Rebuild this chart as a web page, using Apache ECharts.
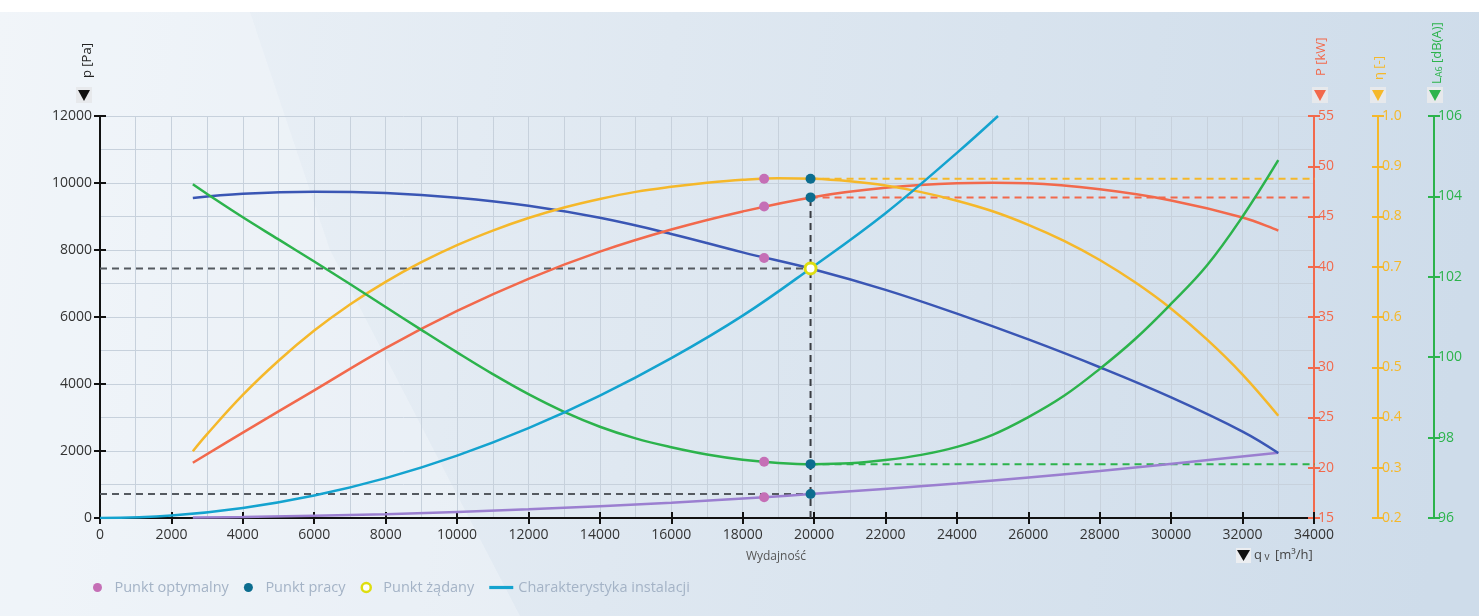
<!DOCTYPE html>
<html>
<head>
<meta charset="utf-8">
<script src="https://cdn.jsdelivr.net/npm/echarts@6/dist/echarts.min.js"></script>
<style>
  html, body { margin: 0; padding: 0; background: #ffffff; }
  #chart { width: 1479px; height: 616px; }
</style>
</head>
<body>
<div id="chart"></div>
<script>
// Fan curves: [flow q (m³/h), value]
const pressureCurve = [
  [2600, 9550], [4000, 9680], [6000, 9740], [8000, 9700], [10000, 9560],
  [12000, 9320], [14000, 8960], [16000, 8480], [18000, 7930], [20000, 7420],
  [22000, 6810], [24000, 6100], [26000, 5330], [28000, 4500], [30000, 3600],
  [32000, 2580], [33000, 1940]
];
const systemCurve = [
  [0, 0], [2000, 75], [4000, 300], [6000, 670], [8000, 1190], [10000, 1860],
  [12000, 2680], [14000, 3650], [16000, 4770], [18000, 6040], [19900, 7450],
  [22000, 9100], [24000, 10900], [25150, 12000]
];
const dynamicPressureCurve = [
  [2600, 12], [4000, 29], [8000, 115], [12000, 258], [16000, 458],
  [18600, 620], [19900, 716], [24000, 1031], [28000, 1404], [33000, 1950]
];
const powerCurve = [
  [2600, 20.5], [4000, 23.5], [6000, 27.7], [8000, 31.9], [10000, 35.6],
  [12000, 38.8], [14000, 41.5], [16000, 43.7], [18000, 45.5], [20000, 46.95],
  [22000, 47.85], [24000, 48.3], [25000, 48.35], [26000, 48.3], [28000, 47.7],
  [30000, 46.6], [32000, 44.9], [33000, 43.6]
];
const efficiencyCurve = [
  [2600, 0.333], [3000, 0.367], [4000, 0.445], [5000, 0.513], [6000, 0.573],
  [7000, 0.625], [8000, 0.670], [9000, 0.709], [10000, 0.743], [11000, 0.772],
  [12000, 0.797], [13000, 0.818], [14000, 0.835], [15000, 0.849], [16000, 0.859],
  [17000, 0.867], [18000, 0.873], [19000, 0.876], [20000, 0.875], [21000, 0.870],
  [22000, 0.8615], [23000, 0.8485], [24000, 0.8315], [25000, 0.8105], [26000, 0.7835],
  [27000, 0.7515], [28000, 0.7135], [29000, 0.6685], [30000, 0.6165], [31000, 0.5555],
  [32000, 0.4855], [33000, 0.4035]
];
const noiseCurve = [
  [2600, 104.3], [3000, 104.06], [4000, 103.48], [5000, 102.93], [6000, 102.38],
  [7000, 101.82], [8000, 101.25], [9000, 100.68], [10000, 100.12], [11000, 99.58],
  [12000, 99.08], [13000, 98.64], [14000, 98.27], [15000, 97.98], [16000, 97.76],
  [17000, 97.58], [18000, 97.45], [19000, 97.37], [20000, 97.34], [21000, 97.36],
  [22000, 97.44], [23000, 97.57], [24000, 97.77], [25000, 98.07], [26000, 98.51],
  [27000, 99.04], [28000, 99.71], [29000, 100.46], [30000, 101.33], [31000, 102.28],
  [32000, 103.5], [33000, 104.9]
];

// Optimum point (pink) and duty point (teal)
const optimumFlow = 18600;
const optimumPressure = 7760, optimumPower = 46.0, optimumEff = 0.875, optimumNoise = 97.4, optimumDyn = 620;
const dutyFlow = 19900;
const dutyPressure = 7450, dutyPower = 46.9, dutyEff = 0.875, dutyNoise = 97.34, dutyDyn = 716;

const FONT = 'Open Sans';
const C = {
  pressure: '#3a56b4', system: '#14a3cf', dyn: '#9b7fd0', power: '#f2694c',
  eff: '#f5b82a', noise: '#2cb34c', optimum: '#c56fb6', duty: '#0c6d8f', req: '#dede10'
};
const plainNumber = v => String(v);

function plainLine(data, color, yAxisIndex, extra) {
  return Object.assign({
    type: 'line', data, yAxisIndex, smooth: 0.4, showSymbol: false, symbol: 'none',
    lineStyle: { color, width: 2.5 }, itemStyle: { color }, silent: true, z: 3
  }, extra || {});
}
function dashed(data, color, yAxisIndex) {
  return {
    type: 'line', data, yAxisIndex, symbol: 'none', clip: false, silent: true, z: 2,
    lineStyle: { color, width: 2, type: [7, 5] }
  };
}
function dots(name, data, color, yAxisIndex, extra) {
  return Object.assign({
    name, type: 'scatter', data, yAxisIndex, symbolSize: 10, z: 5, silent: true,
    itemStyle: { color, opacity: 1 }
  }, extra || {});
}
function rightAxis(min, max, interval, color, offset, fmt) {
  return {
    type: 'value', position: 'right', min, max, interval, offset,
    axisLine: { show: true, onZero: false, lineStyle: { color, width: 2 } },
    axisTick: { show: true, length: 6, lineStyle: { color, width: 2 } },
    axisLabel: { color, fontSize: 14, fontFamily: FONT, margin: 4, formatter: fmt || plainNumber },
    splitLine: { show: false }
  };
}
// second set of ticks pointing into the plot, so every tick crosses its axis line
function innerTicks(base) {
  return Object.assign({}, base, {
    axisLine: { show: false, onZero: false },
    axisTick: { show: true, inside: true, length: 6, lineStyle: base.axisTick.lineStyle },
    axisLabel: { show: false },
    splitLine: { show: false }, minorSplitLine: { show: false }
  });
}

const xMain = {
  type: 'value', position: 'bottom', min: 0, max: 34000, interval: 2000,
  axisLine: { show: true, onZero: false, lineStyle: { color: '#111111', width: 2 } },
  axisTick: { show: true, length: 6, lineStyle: { color: '#111111', width: 2 } },
  axisLabel: { color: '#333333', fontSize: 14, fontFamily: FONT, margin: 10, formatter: plainNumber },
  splitLine: { show: true, lineStyle: { color: '#c7d1dc', width: 1 } },
  minorTick: { show: false, splitNumber: 2 },
  minorSplitLine: { show: true, lineStyle: { color: '#c7d1dc', width: 1 } }
};
const yPressure = {
  type: 'value', min: 0, max: 12000, interval: 2000, position: 'left',
  axisLine: { show: true, onZero: false, lineStyle: { color: '#111111', width: 2 } },
  axisTick: { show: true, length: 6, lineStyle: { color: '#111111', width: 2 } },
  axisLabel: { color: '#333333', fontSize: 14, fontFamily: FONT, margin: 8, formatter: plainNumber },
  splitLine: { show: true, lineStyle: { color: '#c7d1dc', width: 1 } },
  minorTick: { show: false, splitNumber: 2 },
  minorSplitLine: { show: true, lineStyle: { color: '#c7d1dc', width: 1 } }
};
const yPower = rightAxis(15, 55, 5, C.power, 0);
const yEff = rightAxis(0.2, 1.0, 0.1, C.eff, 64, v => v.toFixed(1));
const yNoise = rightAxis(96, 106, 2, C.noise, 120);

const chart = echarts.init(document.getElementById('chart'), null, { renderer: 'canvas' });

const markerBox = (x, color) => [
  { type: 'rect', shape: { x: x - 8, y: 87, width: 16, height: 16 }, style: { fill: '#e7e9ec' }, z: 10 },
  { type: 'polygon', shape: { points: [[x - 6, 90], [x + 6, 90], [x, 101]] }, style: { fill: color }, z: 11 }
];
const vLabel = (x, y, text, fill) => ({
  type: 'text', x, y, rotation: Math.PI / 2, z: 10,
  style: { text, fill, fontFamily: FONT, fontSize: 13, align: 'left', verticalAlign: 'middle' }
});

chart.setOption({
  animation: false,
  textStyle: { fontFamily: FONT },
  grid: { left: 100, right: 165, top: 116, bottom: 98 },
  graphic: [
    { type: 'rect', shape: { x: 0, y: 0, width: 1479, height: 616 }, z: -100, silent: true,
      style: { fill: new echarts.graphic.LinearGradient(0, 0, 1, 0.3, [
        { offset: 0, color: '#eef3f8' }, { offset: 0.45, color: '#dfe8f1' }, { offset: 1, color: '#cedcea' }
      ]) } },
    { type: 'polygon', z: -99, silent: true,
      shape: { points: [[0, 12], [250, 12], [330, 250], [520, 616], [0, 616]] },
      style: { fill: 'rgba(246,249,252,0.35)' } },
    { type: 'rect', shape: { x: 0, y: 0, width: 1479, height: 12 }, z: -98, silent: true, style: { fill: '#ffffff' } },
    ...markerBox(84, '#111111'),
    ...markerBox(1320, '#f2694c'),
    ...markerBox(1378, '#f5b82a'),
    ...markerBox(1435, '#2cb34c'),
    vLabel(87, 78, 'p [Pa]', '#222222'),
    vLabel(1321, 76, 'P [kW]', '#f2694c'),
    vLabel(1379, 80, 'η [-]', '#f5b82a'),
    { type: 'text', x: 1437, y: 84, rotation: Math.PI / 2, z: 10,
      style: { text: '{a|L}{s|A6}{a| [dB(A)]}', fontFamily: FONT, align: 'left', verticalAlign: 'middle',
        rich: { a: { fill: '#2cb34c', fontSize: 13, fontFamily: FONT }, s: { fill: '#2cb34c', fontSize: 9, fontFamily: FONT, padding: [5, 0, 0, 0] } } } },
    { type: 'text', x: 776, y: 557, z: 10,
      style: { text: 'Wydajność', fill: '#555555', fontFamily: FONT, fontSize: 12, align: 'center', verticalAlign: 'middle' } },
    { type: 'rect', shape: { x: 1236, y: 548, width: 15, height: 15 }, style: { fill: '#eceef1' }, z: 10 },
    { type: 'polygon', shape: { points: [[1237, 550], [1250, 550], [1243.5, 561]] }, style: { fill: '#111111' }, z: 11 },
    { type: 'text', x: 1254, y: 555, z: 10,
      style: { text: '{a|q}{s| v}{a| [m³/h]}', align: 'left', verticalAlign: 'middle',
        rich: { a: { fill: '#444444', fontSize: 13, fontFamily: FONT }, s: { fill: '#444444', fontSize: 10, fontFamily: FONT, padding: [4, 2, 0, 0] } } } }
  ],
  legend: {
    left: 88, bottom: 16, itemWidth: 24, itemHeight: 9, itemGap: 15,
    textStyle: { color: '#a4b3c6', fontSize: 14.5, fontFamily: FONT },
    data: [
      { name: 'Punkt optymalny', icon: 'circle' },
      { name: 'Punkt pracy', icon: 'circle' },
      { name: 'Punkt żądany', icon: 'circle',
        itemStyle: { color: '#ffffff', borderColor: C.req, borderWidth: 2.5 } },
      { name: 'Charakterystyka instalacji', icon: 'path://M0,0L30,0L30,4L0,4Z',
        itemStyle: { color: C.system } }
    ]
  },
  xAxis: [xMain, innerTicks(xMain)],
  yAxis: [yPressure, yPower, yEff, yNoise,
          innerTicks(yPressure), innerTicks(yPower), innerTicks(yEff), innerTicks(yNoise)],
  series: [
    // guide lines through the duty point
    dashed([[0, dutyPressure], [dutyFlow, dutyPressure]], '#555a60', 0),
    dashed([[0, dutyDyn], [dutyFlow, dutyDyn]], '#555a60', 0),
    dashed([[dutyFlow, 15], [dutyFlow, dutyPower]], '#3a3d42', 1),
    dashed([[dutyFlow, dutyPower], [34000, dutyPower]], '#f2694c', 1),
    dashed([[dutyFlow, dutyEff], [35800, dutyEff]], '#f5b82a', 2),
    dashed([[dutyFlow, dutyNoise], [37400, dutyNoise]], '#2cb34c', 3),

    plainLine(dynamicPressureCurve, C.dyn, 0),
    plainLine(systemCurve, C.system, 0, { name: 'Charakterystyka instalacji', z: 4 }),
    plainLine(pressureCurve, C.pressure, 0),
    plainLine(powerCurve, C.power, 1),
    plainLine(efficiencyCurve, C.eff, 2),
    plainLine(noiseCurve, C.noise, 3),

    dots('Punkt optymalny', [[optimumFlow, optimumPressure], [optimumFlow, optimumDyn]], C.optimum, 0),
    dots('Punkt optymalny', [[optimumFlow, optimumPower]], C.optimum, 1),
    dots('Punkt optymalny', [[optimumFlow, optimumEff]], C.optimum, 2),
    dots('Punkt optymalny', [[optimumFlow, optimumNoise]], C.optimum, 3),

    dots('Punkt pracy', [[dutyFlow, dutyDyn]], C.duty, 0),
    dots('Punkt pracy', [[dutyFlow, dutyPower]], C.duty, 1),
    dots('Punkt pracy', [[dutyFlow, dutyEff]], C.duty, 2),
    dots('Punkt pracy', [[dutyFlow, dutyNoise]], C.duty, 3),

    dots('Punkt żądany', [[dutyFlow, dutyPressure]], '#ffffff', 0, {
      symbolSize: 11, z: 6,
      itemStyle: { color: '#ffffff', borderColor: C.req, borderWidth: 3, opacity: 1 }
    })
  ]
});
</script>
</body>
</html>
